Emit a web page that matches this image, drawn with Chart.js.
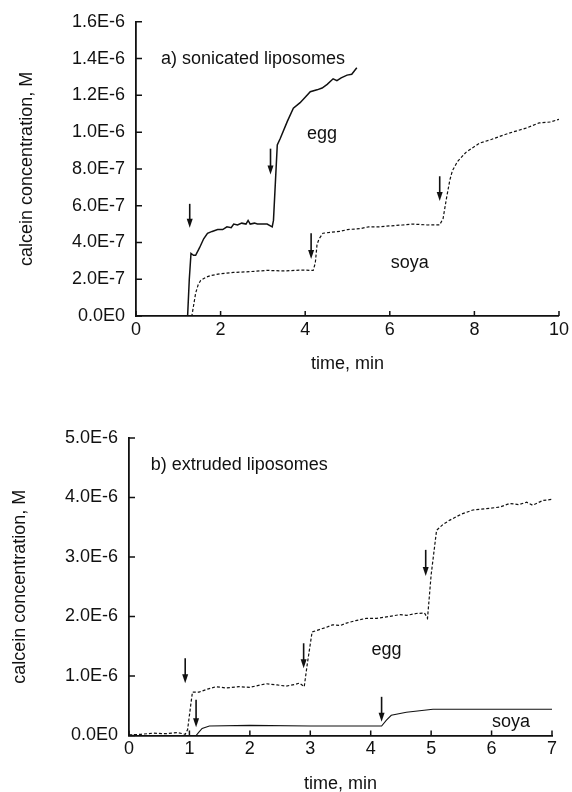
<!DOCTYPE html>
<html>
<head>
<meta charset="utf-8">
<script src="https://cdn.jsdelivr.net/npm/chart.js@4.4.1/dist/chart.umd.min.js"></script>
<style>
  html, body { margin: 0; padding: 0; background: #fff; }
  body { width: 572px; height: 792px; position: relative; overflow: hidden; }
  .panel { position: absolute; left: 0; width: 572px; }
  #panelA { top: 0; height: 380px; }
  #panelB { top: 400px; height: 396px; }
</style>
</head>
<body>
<div class="panel" id="panelA"><canvas id="chartA"></canvas></div>
<div class="panel" id="panelB"><canvas id="chartB"></canvas></div>
<script>
// --- a) sonicated liposomes: time (min), calcein (x 1E-7 M) ---
const eggA_t = [0, 1.22, 1.26, 1.30, 1.36, 1.41, 1.5, 1.6, 1.69, 1.8, 1.93, 2.05, 2.15, 2.25, 2.31, 2.4, 2.5, 2.6, 2.65, 2.7, 2.8, 2.87, 2.95, 3.1, 3.22, 3.25, 3.34, 3.41, 3.58, 3.72, 3.88, 4.0, 4.12, 4.28, 4.4, 4.52, 4.66, 4.75, 4.85, 4.99, 5.1, 5.22];
const eggA_c = [0, 0, 2.0, 3.4, 3.3, 3.3, 3.7, 4.2, 4.5, 4.6, 4.7, 4.7, 4.85, 4.8, 5.0, 4.95, 5.05, 5.0, 5.2, 5.0, 5.05, 5.0, 5.0, 5.0, 4.85, 5.2, 9.3, 9.65, 10.6, 11.3, 11.6, 11.9, 12.2, 12.3, 12.4, 12.6, 12.9, 12.8, 12.95, 13.1, 13.15, 13.5];
const soyaA_t = [0, 1.32, 1.41, 1.47, 1.53, 1.65, 1.76, 2.0, 2.31, 2.6, 3.1, 3.5, 3.9, 4.19, 4.24, 4.28, 4.33, 4.42, 4.6, 4.82, 5.0, 5.3, 5.5, 5.76, 6.0, 6.3, 6.54, 6.9, 7.18, 7.26, 7.34, 7.42, 7.48, 7.6, 7.8, 8.12, 8.4, 8.7, 8.9, 9.2, 9.53, 9.8, 10.0];
const soyaA_c = [0, 0, 1.24, 1.7, 1.94, 2.1, 2.2, 2.3, 2.37, 2.4, 2.48, 2.45, 2.5, 2.48, 2.9, 3.9, 4.2, 4.5, 4.55, 4.6, 4.7, 4.75, 4.85, 4.85, 4.9, 4.95, 5.0, 4.95, 4.96, 5.3, 6.4, 7.4, 7.9, 8.4, 8.9, 9.4, 9.6, 9.85, 10.0, 10.2, 10.5, 10.55, 10.7];
const arrowsA_t = [1.27, 3.18, 4.14, 7.18];
const arrowsA_top = [6.1, 9.1, 4.5, 7.6];
const arrowsA_tip = [4.8, 7.7, 3.1, 6.25];
const notesA_text = ['a) sonicated liposomes', 'egg', 'soya'];
const notesA_t = [0.59, 4.4, 6.47];
const notesA_c = [13.96, 9.87, 2.86];

// --- b) extruded liposomes: time (min), calcein (x 1E-6 M) ---
const eggB_t = [0, 0.2, 0.4, 0.6, 0.8, 0.93, 0.97, 1.02, 1.05, 1.16, 1.3, 1.44, 1.6, 1.82, 2.0, 2.27, 2.45, 2.6, 2.75, 2.82, 2.9, 2.95, 3.03, 3.15, 3.27, 3.37, 3.5, 3.6, 3.75, 3.93, 4.1, 4.3, 4.48, 4.6, 4.75, 4.89, 4.94, 5.0, 5.09, 5.2, 5.31, 5.5, 5.69, 5.9, 6.14, 6.3, 6.45, 6.58, 6.68, 6.85, 7.01];
const eggB_c = [0.01, 0.02, 0.04, 0.03, 0.05, 0.02, 0.1, 0.5, 0.73, 0.73, 0.78, 0.82, 0.80, 0.82, 0.81, 0.87, 0.85, 0.83, 0.86, 0.88, 0.82, 1.2, 1.74, 1.78, 1.82, 1.86, 1.85, 1.89, 1.93, 1.97, 1.97, 2.0, 2.03, 2.02, 2.05, 2.06, 1.97, 2.7, 3.45, 3.55, 3.62, 3.72, 3.79, 3.81, 3.84, 3.9, 3.88, 3.92, 3.87, 3.95, 3.97];
const soyaB_t = [0, 1.11, 1.16, 1.21, 1.33, 2.0, 3.0, 4.18, 4.26, 4.34, 4.59, 5.03, 7.01];
const soyaB_c = [0, 0, 0.06, 0.12, 0.16, 0.17, 0.16, 0.16, 0.26, 0.34, 0.39, 0.44, 0.44];
const arrowsB_t = [0.93, 1.11, 2.89, 4.91, 4.18];
const arrowsB_top = [1.30, 0.60, 1.55, 3.12, 0.65];
const arrowsB_tip = [0.88, 0.14, 1.13, 2.68, 0.23];
const notesB_text = ['b) extruded liposomes', 'egg', 'soya'];
const notesB_t = [0.36, 4.26, 6.32];
const notesB_c = [4.54, 1.44, 0.23];

const INK = '#111';
const FAMILY = '"Liberation Sans", Arial, Helvetica, sans-serif';
const FONT = { family: FAMILY, size: 18 };

const toPoints = (ts, cs, unit) => ts.map((t, i) => ({ x: t, y: cs[i] * unit }));
const sci = (v) => Number(v).toExponential(1).replace('e', 'E').replace('+', '');

// inward tick marks, arrows and in-plot notes
const makeDecor = (p) => ({
    id: 'decor',
    afterDraw(chart) {
        const { ctx, chartArea, scales: { x, y } } = chart;
        ctx.save();
        ctx.strokeStyle = INK;
        ctx.fillStyle = INK;
        ctx.lineWidth = 1.5;
        ctx.beginPath();
        x.ticks.forEach(t => {
            const px = x.getPixelForValue(t.value);
            ctx.moveTo(px, chartArea.bottom);
            ctx.lineTo(px, chartArea.bottom - 5);
        });
        y.ticks.forEach(t => {
            const py = y.getPixelForValue(t.value);
            ctx.moveTo(chartArea.left, py);
            ctx.lineTo(chartArea.left + 6, py);
        });
        ctx.stroke();

        p.arrowT.forEach((t, i) => {
            const px = x.getPixelForValue(t);
            const top = y.getPixelForValue(p.arrowTop[i] * p.unit);
            const tip = y.getPixelForValue(p.arrowTip[i] * p.unit);
            ctx.lineWidth = 1.6;
            ctx.beginPath();
            ctx.moveTo(px, top);
            ctx.lineTo(px, tip - 6);
            ctx.stroke();
            ctx.beginPath();
            ctx.moveTo(px - 3, tip - 9);
            ctx.lineTo(px + 3, tip - 9);
            ctx.lineTo(px, tip);
            ctx.closePath();
            ctx.fill();
        });

        ctx.font = `18px ${FAMILY}`;
        ctx.textBaseline = 'middle';
        p.notes.forEach((txt, i) => {
            ctx.textAlign = i === 0 ? 'left' : 'center';
            ctx.fillText(txt, x.getPixelForValue(p.noteT[i]), y.getPixelForValue(p.noteC[i] * p.unit));
        });
        ctx.restore();
    }
});

const buildChart = (id, cfg) => {
    const ctx = document.getElementById(id).getContext('2d');
    return new Chart(ctx, {
        type: 'line',
        data: {
            datasets: [
                { data: cfg.solid, borderColor: INK, borderWidth: cfg.solidWidth, pointRadius: 0, tension: 0 },
                { data: cfg.dashed, borderColor: INK, borderWidth: 1.2, borderDash: [3, 2], pointRadius: 0, tension: 0 }
            ]
        },
        options: {
            responsive: true,
            maintainAspectRatio: false,
            animation: false,
            layout: { padding: { left: 0, top: cfg.padTop, right: cfg.padRight, bottom: 0 } },
            plugins: { legend: { display: false }, tooltip: { enabled: false } },
            scales: {
                x: {
                    type: 'linear', min: 0, max: cfg.xMax,
                    ticks: { stepSize: cfg.xStep, color: INK, font: FONT, padding: 3, maxRotation: 0 },
                    grid: { display: false, drawTicks: false },
                    border: { display: true, color: INK, width: 1.8 },
                    title: { display: true, text: 'time, min', color: INK, font: FONT, padding: { top: 0, bottom: cfg.xTitlePad } },
                    afterFit: (s) => { s.height = cfg.xHeight; }
                },
                y: {
                    min: 0, max: cfg.yMax,
                    ticks: { stepSize: cfg.yStep, color: INK, font: FONT, padding: 11, callback: (v) => sci(v) },
                    grid: { display: false, drawTicks: false },
                    border: { display: true, color: INK, width: 1.8 },
                    title: { display: true, text: 'calcein concentration, M', color: INK, font: FONT, padding: { top: cfg.yTitlePad, bottom: 0 } },
                    afterFit: (s) => { s.width = cfg.yWidth; }
                }
            }
        },
        plugins: [makeDecor(cfg.decor)]
    });
};

document.addEventListener('DOMContentLoaded', () => {
    buildChart('chartA', {
        solid: toPoints(eggA_t, eggA_c, 1e-7),
        dashed: toPoints(soyaA_t, soyaA_c, 1e-7),
        solidWidth: 1.5,
        xMax: 10, xStep: 2, yMax: 1.6e-6, yStep: 2e-7,
        padTop: 19, padRight: 12, xHeight: 64, yWidth: 136, xTitlePad: 5, yTitlePad: 16,
        decor: { unit: 1e-7, arrowT: arrowsA_t, arrowTop: arrowsA_top, arrowTip: arrowsA_tip, notes: notesA_text, noteT: notesA_t, noteC: notesA_c }
    });
    buildChart('chartB', {
        solid: toPoints(soyaB_t, soyaB_c, 1e-6),
        dashed: toPoints(eggB_t, eggB_c, 1e-6),
        solidWidth: 1.1,
        xMax: 7, xStep: 1, yMax: 5e-6, yStep: 1e-6,
        padTop: 38, padRight: 20, xHeight: 60.5, yWidth: 129, xTitlePad: 1, yTitlePad: 9,
        decor: { unit: 1e-6, arrowT: arrowsB_t, arrowTop: arrowsB_top, arrowTip: arrowsB_tip, notes: notesB_text, noteT: notesB_t, noteC: notesB_c }
    });
});
</script>
</body>
</html>
